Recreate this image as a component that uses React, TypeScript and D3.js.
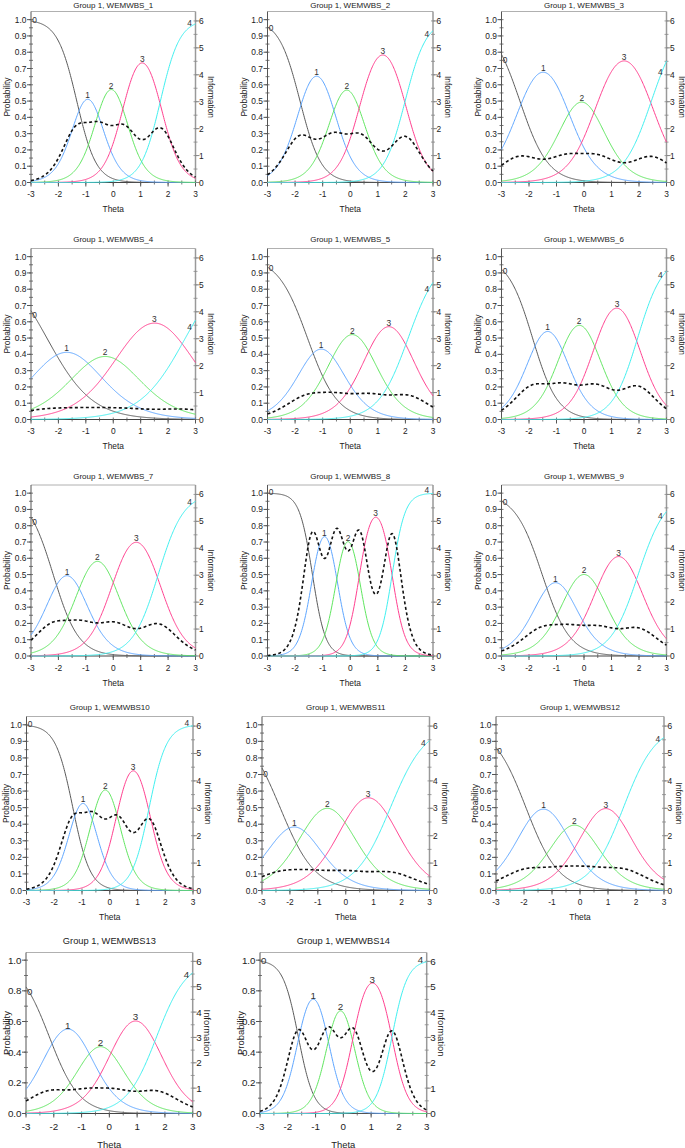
import React from 'react';
import * as d3 from 'd3';

// ---------------- data ----------------
const itemNames = [
  'WEMWBS_1', 'WEMWBS_2', 'WEMWBS_3', 'WEMWBS_4', 'WEMWBS_5', 'WEMWBS_6', 'WEMWBS_7',
  'WEMWBS_8', 'WEMWBS_9', 'WEMWBS10', 'WEMWBS11', 'WEMWBS12', 'WEMWBS13', 'WEMWBS14',
];
// graded-response slope per item
const slopes = [2.82, 2.6, 1.95, 1.21, 1.85, 2.2, 2.16, 4.25, 2.0, 3.2, 1.6, 1.72, 1.85, 3.6];
// category boundary locations per item
const thresholds = [
  [-1.33, -0.53, 0.39, 1.72],
  [-1.82, -0.62, 0.37, 1.99],
  [-2.33, -0.64, 0.47, 2.45],
  [-2.42, -0.97, 0.38, 2.63],
  [-1.55, -0.55, 0.7, 2.1],
  [-1.87, -0.77, 0.43, 1.95],
  [-2.19, -1.19, 0.04, 1.64],
  [-1.37, -0.49, 0.33, 1.52],
  [-1.52, -0.55, 0.55, 1.97],
  [-1.33, -0.6, 0.28, 1.42],
  [-2.35, -1.34, 0.02, 1.6],
  [-1.93, -0.68, 0.29, 1.55],
  [-2.16, -0.82, 0.19, 1.7],
  [-1.62, -0.55, 0.35, 1.75],
];
const categories = ['0', '1', '2', '3', '4'];
const thetaTicks = [-3, -2, -1, 0, 1, 2, 3];
const probTicksFine = [0, 0.1, 0.2, 0.3, 0.4, 0.5, 0.6, 0.7, 0.8, 0.9, 1.0];
const probTicksCoarse = [0, 0.2, 0.4, 0.6, 0.8, 1.0];
const infoTicks = [0, 1, 2, 3, 4, 5, 6];
const groupLabel = 'Group 1';

// ---------------- styles / layout ----------------
const catColors = ['#5a5a5a', '#5ea6ff', '#5fe65f', '#ff3f8f', '#3ff0f0'];
const FONT = '"Liberation Sans", Arial, sans-serif';

type Box = { x0: number; x1: number; y0: number; h: number; big: boolean; probDx: number };
const boxes: Box[] = [];
{
  const cols = [[31, 195.5], [267.5, 433], [501.5, 666.5]];
  const bottoms = [182.5, 419.5, 656];
  bottoms.forEach((b) => cols.forEach((c) => boxes.push({ x0: c[0], x1: c[1], y0: b, h: 171, big: false, probDx: 24 })));
  const cols4 = [[26.5, 193], [262, 429.5], [496, 664]];
  cols4.forEach((c) => boxes.push({ x0: c[0], x1: c[1], y0: 890.5, h: 174, big: false, probDx: 21 }));
  const cols5 = [[26, 192.7], [260, 426.7]];
  cols5.forEach((c) => boxes.push({ x0: c[0], x1: c[1], y0: 1113.5, h: 161, big: true, probDx: 20 }));
}

// ---------------- model ----------------
function cumP(a: number, b: number[], t: number, k: number) {
  if (k <= 0) return 1;
  if (k >= 5) return 0;
  return 1 / (1 + Math.exp(-a * (t - b[k - 1])));
}
function catP(a: number, b: number[], t: number, k: number) {
  return cumP(a, b, t, k) - cumP(a, b, t, k + 1);
}
function dCum(a: number, b: number[], t: number, k: number) {
  if (k <= 0 || k >= 5) return 0;
  const c = cumP(a, b, t, k);
  return a * c * (1 - c);
}
function info(a: number, b: number[], t: number) {
  let s = 0;
  for (let k = 0; k < 5; k++) {
    const p = catP(a, b, t, k);
    const d = dCum(a, b, t, k) - dCum(a, b, t, k + 1);
    if (p > 1e-12) s += (d * d) / p;
  }
  return s;
}

const thetaGrid = d3.range(-3, 3.0001, 0.02);

function Panel({ idx }: { idx: number }) {
  const box = boxes[idx];
  const a = slopes[idx];
  const b = thresholds[idx];
  const fs = box.big ? 9.8 : 8.4;
  const fsTitle = box.big ? 9.3 : 8;
  const fsAxis = box.big ? 9.4 : 8.4;
  const x = d3.scaleLinear().domain([-3, 3]).range([box.x0, box.x1]);
  const yP = d3.scaleLinear().domain([0, 1.05]).range([box.y0, box.y0 - box.h]);
  const yI = d3.scaleLinear().domain([0, 6.35]).range([box.y0, box.y0 - box.h]);
  const top = box.y0 - box.h;
  const midY = (box.y0 + top) / 2;
  const probTicks = box.big ? probTicksCoarse : probTicksFine;
  const probStep = box.big ? 0.1 : 0.05;
  const minorProb = d3.range(0, 1.0001, probStep);
  const minorInfo = d3.range(0, 6.0001, 0.5);
  const minorTheta = d3.range(-3, 3.0001, 0.5);

  const line = d3.line<[number, number]>().x((d) => d[0]).y((d) => d[1]);

  const catPaths = categories.map((_, k) =>
    line(thetaGrid.map((t) => [x(t), yP(catP(a, b, t, k))] as [number, number]))
  );
  const infoPath = line(thetaGrid.map((t) => [x(t), yI(info(a, b, t))] as [number, number]));

  const labels = categories.map((c, k) => {
    if (k === 0) {
      const t = -2.87;
      return { c, x: x(t), y: yP(catP(a, b, t, 0)) - 1.5 };
    }
    if (k === 4) {
      const t = 2.78;
      return { c, x: x(t), y: yP(catP(a, b, t, 4)) - 4 };
    }
    const best = d3.greatestIndex(thetaGrid, (t) => catP(a, b, t, k));
    const t = thetaGrid[best];
    return { c, x: x(t), y: yP(catP(a, b, t, k)) - 4 };
  });

  const titleY = Math.max(5.5, top - (box.big ? 11.5 : 9));

  return (
    <g fontFamily={FONT} fill="#222">
      <text x={(box.x0 + box.x1) / 2} y={titleY} fontSize={fsTitle} textAnchor="middle" dominantBaseline="central">
        {`${groupLabel}, ${itemNames[idx]}`}
      </text>
      <line x1={box.x0} x2={box.x1} y1={top} y2={top} stroke="#b0b0b0" strokeWidth={1} />
      <line x1={box.x0} x2={box.x0} y1={top} y2={box.y0} stroke="#555" strokeWidth={1} />
      <line x1={box.x1} x2={box.x1} y1={top} y2={box.y0} stroke="#999" strokeWidth={1.5} />
      <line x1={box.x0} x2={box.x1} y1={box.y0} y2={box.y0} stroke="#444" strokeWidth={1} />
      {minorProb.map((v, i) => (
        <line key={'mp' + i} x1={box.x0 - 2} x2={box.x0 + 2} y1={yP(v)} y2={yP(v)} stroke="#555" strokeWidth={0.8} />
      ))}
      {minorInfo.map((v, i) => (
        <line key={'mi' + i} x1={box.x1 - 2} x2={box.x1 + 2} y1={yI(v)} y2={yI(v)} stroke="#888" strokeWidth={0.8} />
      ))}
      {minorTheta.map((v, i) => (
        <line key={'mt' + i} x1={x(v)} x2={x(v)} y1={box.y0 - 2} y2={box.y0 + 2} stroke="#555" strokeWidth={0.8} />
      ))}
      {probTicks.map((v, i) => (
        <g key={'p' + i}>
          <line x1={box.x0 - 4} x2={box.x0} y1={yP(v)} y2={yP(v)} stroke="#555" strokeWidth={1} />
          <text x={box.x0 - 4.5} y={yP(v)} fontSize={fs} textAnchor="end" dominantBaseline="central">
            {v.toFixed(1)}
          </text>
        </g>
      ))}
      {infoTicks.map((v, i) => (
        <g key={'i' + i}>
          <line x1={box.x1} x2={box.x1 + 4} y1={yI(v)} y2={yI(v)} stroke="#888" strokeWidth={1} />
          <text x={box.x1 + 3.5} y={yI(v)} fontSize={fs} textAnchor="start" dominantBaseline="central">
            {v}
          </text>
        </g>
      ))}
      {thetaTicks.map((v, i) => (
        <g key={'t' + i}>
          <line x1={x(v)} x2={x(v)} y1={box.y0} y2={box.y0 + 4} stroke="#555" strokeWidth={1} />
          <text x={x(v)} y={box.y0 + (box.big ? 13 : 11.5)} fontSize={fs} textAnchor="middle" dominantBaseline="central">
            {v}
          </text>
        </g>
      ))}
      <text x={(box.x0 + box.x1) / 2} y={box.y0 + (box.big ? 30.5 : 26.5)} fontSize={fsAxis} textAnchor="middle" dominantBaseline="central">
        Theta
      </text>
      <text transform={`translate(${box.x0 - box.probDx},${midY}) rotate(-90)`} fontSize={fsAxis} textAnchor="middle" dominantBaseline="central">
        Probability
      </text>
      <text transform={`translate(${box.x1 + 15},${midY}) rotate(90)`} fontSize={fsAxis} textAnchor="middle" dominantBaseline="central">
        Information
      </text>
      {catPaths.map((d, k) => (
        <path key={'c' + k} d={d || ''} fill="none" stroke={catColors[k]} strokeWidth={1} />
      ))}
      <path d={infoPath || ''} fill="none" stroke="#111" strokeWidth={1.6} strokeDasharray="3,2.5" />
      {labels.map((l, k) => (
        <text key={'l' + k} x={l.x} y={l.y} fontSize={fs} textAnchor="middle" dominantBaseline="central" fill="#333">
          {l.c}
        </text>
      ))}
    </g>
  );
}

export default function App() {
  return (
    <svg
      width={685}
      height={1148}
      viewBox="0 0 685 1148"
      style={{ position: 'absolute', left: 0, top: 0, background: '#fff' }}
    >
      <rect x={0} y={0} width={685} height={1148} fill="#fff" />
      {itemNames.map((_, i) => (
        <Panel key={i} idx={i} />
      ))}
    </svg>
  );
}
